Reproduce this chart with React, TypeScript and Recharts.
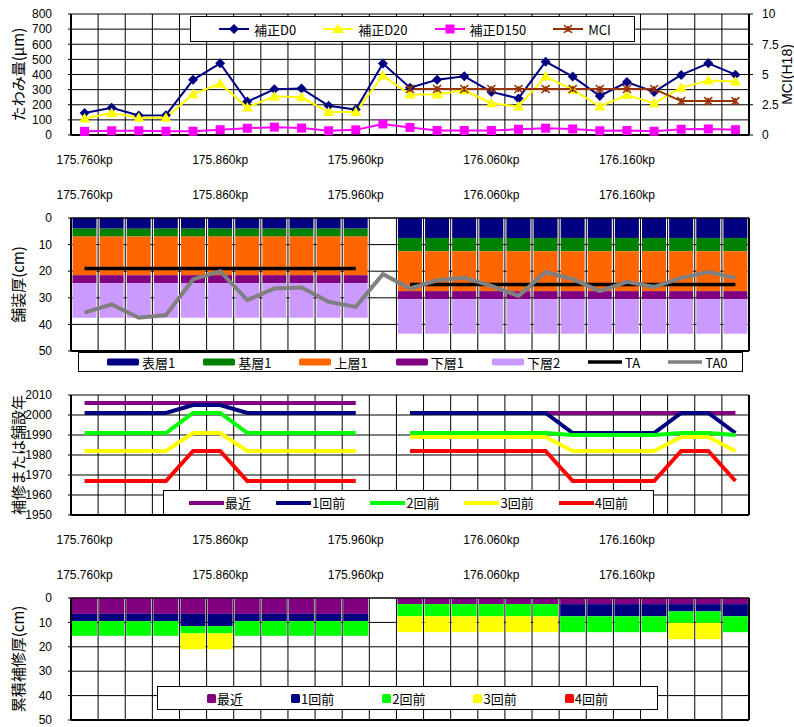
import React from 'react'
import { ComposedChart, Bar, Line, XAxis, YAxis, CartesianGrid, Legend } from 'recharts'

const NUM_FONT = '"Liberation Sans", Arial, sans-serif'
const JP_FONT = '"Noto Sans CJK JP", "Liberation Sans", sans-serif'

// kilometre posts, one per 20 m section
const kpLabels = [
  '175.760kp', '175.780kp', '175.800kp', '175.820kp', '175.840kp',
  '175.860kp', '175.880kp', '175.900kp', '175.920kp', '175.940kp',
  '175.960kp', '175.980kp', '176.000kp', '176.020kp', '176.040kp',
  '176.060kp', '176.080kp', '176.100kp', '176.120kp', '176.140kp',
  '176.160kp', '176.180kp', '176.200kp', '176.220kp', '176.240kp',
]

// panel 1: deflection (μm) and MCI
const d0 = [146, 180, 129, 131, 365, 474, 221, 302, 307, 193, 168, 472, 313, 365, 388, 285, 242, 485, 386, 258, 350, 285, 397, 474, 399]
const d20 = [109, 146, 114, 114, 270, 339, 182, 255, 249, 152, 152, 393, 268, 268, 296, 210, 189, 386, 300, 189, 264, 210, 313, 361, 354]
const d150 = [24, 28, 28, 25, 25, 35, 45, 52, 46, 28, 34, 73, 50, 30, 30, 30, 38, 45, 40, 28, 30, 25, 38, 40, 35]
const mci = [null, null, null, null, null, null, null, null, null, null, null, null, 3.8, 3.8, 3.8, 3.8, 3.8, 3.8, 3.8, 3.8, 3.8, 3.8, 2.8, 2.8, 2.8]
const deflectionTicks = [0, 100, 200, 300, 400, 500, 600, 700, 800]
const mciTicks = [0, 2.5, 5, 7.5, 10]

// panel 2: pavement layers (cm)
const surface1 = [4, 4, 4, 4, 4, 4, 4, 4, 4, 4, 4, null, 7.5, 7.5, 7.5, 7.5, 7.5, 7.5, 7.5, 7.5, 7.5, 7.5, 7.5, 7.5, 7.5]
const binder1 = [3, 3, 3, 3, 3, 3, 3, 3, 3, 3, 3, null, 5, 5, 5, 5, 5, 5, 5, 5, 5, 5, 5, 5, 5]
const upper1 = [14.5, 14.5, 14.5, 14.5, 14.5, 14.5, 14.5, 14.5, 14.5, 14.5, 14.5, null, 15, 15, 15, 15, 15, 15, 15, 15, 15, 15, 15, 15, 15]
const lower1 = [3, 3, 3, 3, 3, 3, 3, 3, 3, 3, 3, null, 3, 3, 3, 3, 3, 3, 3, 3, 3, 3, 3, 3, 3]
const lower2 = [13, 13, 13, 13, 13, 13, 13, 13, 13, 13, 13, null, 13, 13, 13, 13, 13, 13, 13, 13, 13, 13, 13, 13, 13]
const ta = [19, 19, 19, 19, 19, 19, 19, 19, 19, 19, 19, null, 25, 25, 25, 25, 25, 25, 25, 25, 25, 25, 25, 25, 25]
const ta0 = [35.6, 32.5, 37.5, 36.5, 23.1, 20, 30.9, 26.5, 26.1, 31.5, 33.4, 21.1, 26.5, 23.4, 22.5, 25.5, 29.3, 20.3, 23, 27.5, 24, 25.9, 22.5, 20.3, 22.5]
const depthTicks = [0, 10, 20, 30, 40, 50]

// panel 3: repair / construction year
const yRecent = [2006, 2006, 2006, 2006, 2006, 2006, 2006, 2006, 2006, 2006, 2006, null, 2001, 2001, 2001, 2001, 2001, 2001, 2001, 2001, 2001, 2001, 2001, 2001, 2001]
const yPrev1 = [2001, 2001, 2001, 2001, 2005, 2005, 2001, 2001, 2001, 2001, 2001, null, 2001, 2001, 2001, 2001, 2001, 2001, 1991, 1991, 1991, 1991, 2001, 2001, 1991]
const yPrev2 = [1991, 1991, 1991, 1991, 2001, 2001, 1991, 1991, 1991, 1991, 1991, null, 1991, 1991, 1991, 1991, 1991, 1991, 1990, 1990, 1990, 1990, 1991, 1991, 1990]
const yPrev3 = [1982, 1982, 1982, 1982, 1991, 1991, 1982, 1982, 1982, 1982, 1982, null, 1989, 1989, 1989, 1989, 1989, 1989, 1982, 1982, 1982, 1982, 1989, 1989, 1982]
const yPrev4 = [1967, 1967, 1967, 1967, 1982, 1982, 1967, 1967, 1967, 1967, 1967, null, 1982, 1982, 1982, 1982, 1982, 1982, 1967, 1967, 1967, 1967, 1982, 1982, 1967]
const yearTicks = [1950, 1960, 1970, 1980, 1990, 2000, 2010]

// panel 4: cumulative repair thickness (cm)
const cRecent = [6.5, 6.5, 6.5, 6.5, 6.5, 6.5, 6.5, 6.5, 6.5, 6.5, 6.5, null, 2.5, 2.5, 2.5, 2.5, 2.5, 2.5, 2.5, 2.5, 2.5, 2.5, 2.5, 2.5, 2.5]
const cPrev1 = [3, 3, 3, 3, 5, 5, 3, 3, 3, 3, 3, null, 0, 0, 0, 0, 0, 0, 5, 5, 5, 5, 3, 3, 5]
const cPrev2 = [6, 6, 6, 6, 3, 3, 6, 6, 6, 6, 6, null, 5, 5, 5, 5, 5, 5, 6.5, 6.5, 6.5, 6.5, 4.7, 4.7, 6.5]
const cPrev3 = [0, 0, 0, 0, 6.5, 6.5, 0, 0, 0, 0, 0, null, 6.5, 6.5, 6.5, 6.5, 6.5, 6.5, 0, 0, 0, 0, 6.7, 6.7, 0]
const cPrev4 = [0, 0, 0, 0, 0, 0, 0, 0, 0, 0, 0, null, 0, 0, 0, 0, 0, 0, 0, 0, 0, 0, 0, 0, 0]

const deflectionData = kpLabels.map((kp, i) => ({ kp, d0: d0[i], d20: d20[i], d150: d150[i], mci: mci[i] }))
const layerData = kpLabels.map((kp, i) => ({
  kp, surface1: surface1[i], binder1: binder1[i], upper1: upper1[i], lower1: lower1[i], lower2: lower2[i], ta: ta[i], ta0: ta0[i],
}))
const yearData = kpLabels.map((kp, i) => ({ kp, r: yRecent[i], p1: yPrev1[i], p2: yPrev2[i], p3: yPrev3[i], p4: yPrev4[i] }))
const repairData = kpLabels.map((kp, i) => ({ kp, r: cRecent[i], p1: cPrev1[i], p2: cPrev2[i], p3: cPrev3[i], p4: cPrev4[i] }))

const axisLine = { stroke: '#000', strokeWidth: 2 }
const tickStyle = { fill: '#000', fontSize: 12, fontFamily: NUM_FONT }

// vertical grid on section boundaries instead of category centres
const boundaryLines = (p: any) => {
  const left = p.offset ? p.offset.left : p.xAxis.x
  const w = p.offset ? p.offset.width : p.xAxis.width
  return Array.from({ length: kpLabels.length + 1 }, (_, i) => left + (i * w) / kpLabels.length)
}

function renderKpTick(p: any) {
  return (
    <text key={p.index} x={p.x} y={p.y} textAnchor="middle" dominantBaseline="central" fontSize={12} fontFamily={NUM_FONT} fill="#000">
      {p.payload.value}
    </text>
  )
}

function AxisTitle({ viewBox, text, tx, size = 15, font = JP_FONT }: any) {
  const cy = viewBox.y + viewBox.height / 2
  return (
    <text x={tx} y={cy} transform={`rotate(-90 ${tx} ${cy})`} textAnchor="middle" dominantBaseline="central" fontSize={size} fontFamily={font} fill="#000">
      {text}
    </text>
  )
}

function marker(shape: string, cx: number, cy: number, key?: string) {
  switch (shape) {
    case 'diamond':
      return <path key={key} d={`M${cx},${cy - 5}L${cx + 5},${cy}L${cx},${cy + 5}L${cx - 5},${cy}Z`} fill="#000080" />
    case 'triangle':
      return <path key={key} d={`M${cx},${cy - 5.5}L${cx + 5.5},${cy + 4}L${cx - 5.5},${cy + 4}Z`} fill="#FFFF00" />
    case 'square':
      return <rect key={key} x={cx - 4.5} y={cy - 4.5} width={9} height={9} fill="#FF00FF" />
    default:
      return (
        <path key={key} d={`M${cx - 4},${cy - 4}L${cx + 4},${cy + 4}M${cx - 4},${cy + 4}L${cx + 4},${cy - 4}M${cx},${cy - 3}L${cx},${cy + 3}`}
          stroke="#993300" strokeWidth={1.6} fill="none" />
      )
  }
}

const dotOf = (shape: string) => (p: any) =>
  p.cx == null || p.cy == null || p.value == null || isNaN(p.cy)
    ? <g key={`n${p.index}`} />
    : marker(shape, p.cx, p.cy, `m${p.index}`)

function LegendSample({ item }: any) {
  if (item.kind === 'square') {
    return (
      <svg width={9} height={9} style={{ display: 'block' }}>
        <rect width={9} height={9} rx={1.5} fill={item.color} />
      </svg>
    )
  }
  if (item.kind === 'bar') {
    return (
      <svg width={item.w} height={8} style={{ display: 'block' }}>
        <rect x={0} y={0.5} width={item.w} height={7} rx={1.5} fill={item.color} />
      </svg>
    )
  }
  return (
    <svg width={item.w} height={12} style={{ display: 'block' }}>
      <line x1={0} x2={item.w} y1={6} y2={6} stroke={item.color} strokeWidth={item.sw} />
      {item.marker && marker(item.marker, item.w / 2, 6)}
    </svg>
  )
}

function BoxLegend({ items, padLeft, gap, textGap }: any) {
  return (
    <div
      style={{
        width: '100%', height: '100%', boxSizing: 'border-box', border: '1px solid #000', background: '#fff',
        display: 'flex', alignItems: 'center', paddingLeft: padLeft, gap, fontFamily: JP_FONT, fontSize: 13,
        color: '#000', whiteSpace: 'nowrap', lineHeight: 1,
      }}
    >
      {items.map((it: any) => (
        <div key={it.name} style={{ display: 'flex', alignItems: 'center' }}>
          <LegendSample item={it} />
          <span style={{ marginLeft: textGap }}>{it.name}</span>
        </div>
      ))}
    </div>
  )
}

const deflectionLegend = [
  { name: '補正D0', kind: 'line', color: '#000080', sw: 2, w: 30, marker: 'diamond' },
  { name: '補正D20', kind: 'line', color: '#FFFF00', sw: 2, w: 30, marker: 'triangle' },
  { name: '補正D150', kind: 'line', color: '#FF00FF', sw: 2, w: 30, marker: 'square' },
  { name: 'MCI', kind: 'line', color: '#993300', sw: 2, w: 30, marker: 'star' },
]
const layerLegend = [
  { name: '表層1', kind: 'bar', color: '#000080', w: 32 },
  { name: '基層1', kind: 'bar', color: '#008000', w: 32 },
  { name: '上層1', kind: 'bar', color: '#FF6600', w: 32 },
  { name: '下層1', kind: 'bar', color: '#800080', w: 32 },
  { name: '下層2', kind: 'bar', color: '#CC99FF', w: 32 },
  { name: 'TA', kind: 'line', color: '#000', sw: 3.5, w: 34 },
  { name: 'TA0', kind: 'line', color: '#808080', sw: 3.5, w: 34 },
]
const yearLegend = [
  { name: '最近', kind: 'line', color: '#800080', sw: 4, w: 35 },
  { name: '1回前', kind: 'line', color: '#000080', sw: 4, w: 35 },
  { name: '2回前', kind: 'line', color: '#00FF00', sw: 4, w: 35 },
  { name: '3回前', kind: 'line', color: '#FFFF00', sw: 4, w: 35 },
  { name: '4回前', kind: 'line', color: '#FF0000', sw: 4, w: 35 },
]
const repairLegend = [
  { name: '最近', kind: 'square', color: '#800080' },
  { name: '1回前', kind: 'square', color: '#000080' },
  { name: '2回前', kind: 'square', color: '#00FF00' },
  { name: '3回前', kind: 'square', color: '#FFFF00' },
  { name: '4回前', kind: 'square', color: '#FF0000' },
]

const yProps = { width: 71, tickSize: 3, tickMargin: 16, interval: 0 as const, tick: tickStyle, axisLine, tickLine: { stroke: '#000' } }

export default function App() {
  return (
    <div style={{ position: 'absolute', left: 0, top: 0, width: 794, height: 727, background: '#fff' }}>
      {/* deflection */}
      <div style={{ position: 'absolute', left: 0, top: 0 }}>
        <ComposedChart width={794} height={175} data={deflectionData} margin={{ top: 14, right: 0, bottom: 0, left: 0 }}>
          <CartesianGrid stroke="#000" verticalCoordinatesGenerator={boundaryLines} />
          <XAxis dataKey="kp" scale="band" interval={4} height={40} tickLine={false} tickSize={0} tickMargin={25} axisLine={axisLine} tick={renderKpTick} />
          <YAxis {...yProps} domain={[0, 800]} ticks={deflectionTicks} label={<AxisTitle text="たわみ量(μm)" tx={17} />} />
          <YAxis yAxisId="mci" orientation="right" width={45} domain={[0, 10]} ticks={mciTicks} interval={0} tickSize={4} tickMargin={9}
            tick={tickStyle} axisLine={axisLine} tickLine={{ stroke: '#000' }}
            label={<AxisTitle text="MCI(H18)" tx={787} size={14} font={NUM_FONT} />} />
          <Legend layout="vertical" align="center" verticalAlign="middle" wrapperStyle={{ left: 190, top: 16, width: 445, height: 26 }}
            content={() => <BoxLegend items={deflectionLegend} padLeft={28} gap={27} textGap={5} />} />
          <Line dataKey="d0" name="補正D0" stroke="#000080" strokeWidth={2} dot={dotOf('diamond')} isAnimationActive={false} />
          <Line dataKey="d20" name="補正D20" stroke="#FFFF00" strokeWidth={2} dot={dotOf('triangle')} isAnimationActive={false} />
          <Line dataKey="d150" name="補正D150" stroke="#FF00FF" strokeWidth={2} dot={dotOf('square')} isAnimationActive={false} />
          <Line yAxisId="mci" dataKey="mci" name="MCI" stroke="#993300" strokeWidth={2} dot={dotOf('star')} isAnimationActive={false} />
        </ComposedChart>
      </div>

      {/* pavement layers */}
      <div style={{ position: 'absolute', left: 0, top: 180 }}>
        <ComposedChart width={794} height={200} data={layerData} margin={{ top: 0, right: 0, bottom: 0, left: 0 }} barCategoryGap={1.5}>
          <CartesianGrid stroke="#000" verticalCoordinatesGenerator={boundaryLines} />
          <XAxis dataKey="kp" scale="band" orientation="top" interval={4} height={38} tickLine={false} tickSize={0} tickMargin={23} axisLine={{ stroke: '#000' }} tick={renderKpTick} />
          <XAxis xAxisId="edge" dataKey="kp" scale="band" orientation="bottom" height={29} tick={false} tickLine={false} axisLine={axisLine} />
          <YAxis {...yProps} reversed domain={[0, 50]} ticks={depthTicks} label={<AxisTitle text="舗装厚(cm)" tx={17} />} />
          <YAxis yAxisId="edge" orientation="right" width={45} tick={false} tickLine={false} axisLine={axisLine} />
          <Legend layout="vertical" align="center" verticalAlign="middle" wrapperStyle={{ left: 78, top: 172, width: 665, height: 20 }}
            content={() => <BoxLegend items={layerLegend} padLeft={28} gap={28} textGap={3} />} />
          <Bar dataKey="surface1" name="表層1" stackId="a" fill="#000080" isAnimationActive={false} />
          <Bar dataKey="binder1" name="基層1" stackId="a" fill="#008000" isAnimationActive={false} />
          <Bar dataKey="upper1" name="上層1" stackId="a" fill="#FF6600" isAnimationActive={false} />
          <Bar dataKey="lower1" name="下層1" stackId="a" fill="#800080" isAnimationActive={false} />
          <Bar dataKey="lower2" name="下層2" stackId="a" fill="#CC99FF" isAnimationActive={false} />
          <Line dataKey="ta" name="TA" stroke="#000" strokeWidth={3.5} dot={false} isAnimationActive={false} />
          <Line dataKey="ta0" name="TA0" stroke="#808080" strokeWidth={4} dot={false} isAnimationActive={false} />
        </ComposedChart>
      </div>

      {/* repair / construction year */}
      <div style={{ position: 'absolute', left: 0, top: 380 }}>
        <ComposedChart width={794} height={180} data={yearData} margin={{ top: 15, right: 0, bottom: 0, left: 0 }}>
          <CartesianGrid stroke="#000" verticalCoordinatesGenerator={boundaryLines} />
          <XAxis dataKey="kp" scale="band" interval={4} height={45} tickLine={false} tickSize={0} tickMargin={25} axisLine={axisLine} tick={renderKpTick} />
          <YAxis {...yProps} domain={[1950, 2010]} ticks={yearTicks} label={<AxisTitle text="補修または舗設年" tx={17} />} />
          <YAxis yAxisId="edge" orientation="right" width={45} tick={false} tickLine={false} axisLine={axisLine} />
          <Legend layout="vertical" align="center" verticalAlign="middle" wrapperStyle={{ left: 163, top: 110, width: 491, height: 25 }}
            content={() => <BoxLegend items={yearLegend} padLeft={25} gap={25} textGap={1} />} />
          <Line dataKey="r" name="最近" stroke="#800080" strokeWidth={4} dot={false} isAnimationActive={false} />
          <Line dataKey="p1" name="1回前" stroke="#000080" strokeWidth={4} dot={false} isAnimationActive={false} />
          <Line dataKey="p2" name="2回前" stroke="#00FF00" strokeWidth={4} dot={false} isAnimationActive={false} />
          <Line dataKey="p3" name="3回前" stroke="#FFFF00" strokeWidth={4} dot={false} isAnimationActive={false} />
          <Line dataKey="p4" name="4回前" stroke="#FF0000" strokeWidth={4} dot={false} isAnimationActive={false} />
        </ComposedChart>
      </div>

      {/* cumulative repair thickness */}
      <div style={{ position: 'absolute', left: 0, top: 560 }}>
        <ComposedChart width={794} height={167} data={repairData} margin={{ top: 0, right: 0, bottom: 0, left: 0 }} barCategoryGap={1}>
          <CartesianGrid stroke="#000" verticalCoordinatesGenerator={boundaryLines} />
          <XAxis dataKey="kp" scale="band" orientation="top" interval={4} height={38} tickLine={false} tickSize={0} tickMargin={23} axisLine={{ stroke: '#000' }} tick={renderKpTick} />
          <XAxis xAxisId="edge" dataKey="kp" scale="band" orientation="bottom" height={7} tick={false} tickLine={false} axisLine={axisLine} />
          <YAxis {...yProps} reversed domain={[0, 50]} ticks={depthTicks} label={<AxisTitle text="累積補修厚(cm)" tx={17} />} />
          <YAxis yAxisId="edge" orientation="right" width={45} tick={false} tickLine={false} axisLine={axisLine} />
          <Legend layout="vertical" align="center" verticalAlign="middle" wrapperStyle={{ left: 157, top: 126, width: 501, height: 24 }}
            content={() => <BoxLegend items={repairLegend} padLeft={49} gap={48} textGap={1} />} />
          <Bar dataKey="r" name="最近" stackId="a" fill="#800080" isAnimationActive={false} />
          <Bar dataKey="p1" name="1回前" stackId="a" fill="#000080" isAnimationActive={false} />
          <Bar dataKey="p2" name="2回前" stackId="a" fill="#00FF00" isAnimationActive={false} />
          <Bar dataKey="p3" name="3回前" stackId="a" fill="#FFFF00" isAnimationActive={false} />
          <Bar dataKey="p4" name="4回前" stackId="a" fill="#FF0000" isAnimationActive={false} />
        </ComposedChart>
      </div>
    </div>
  )
}
